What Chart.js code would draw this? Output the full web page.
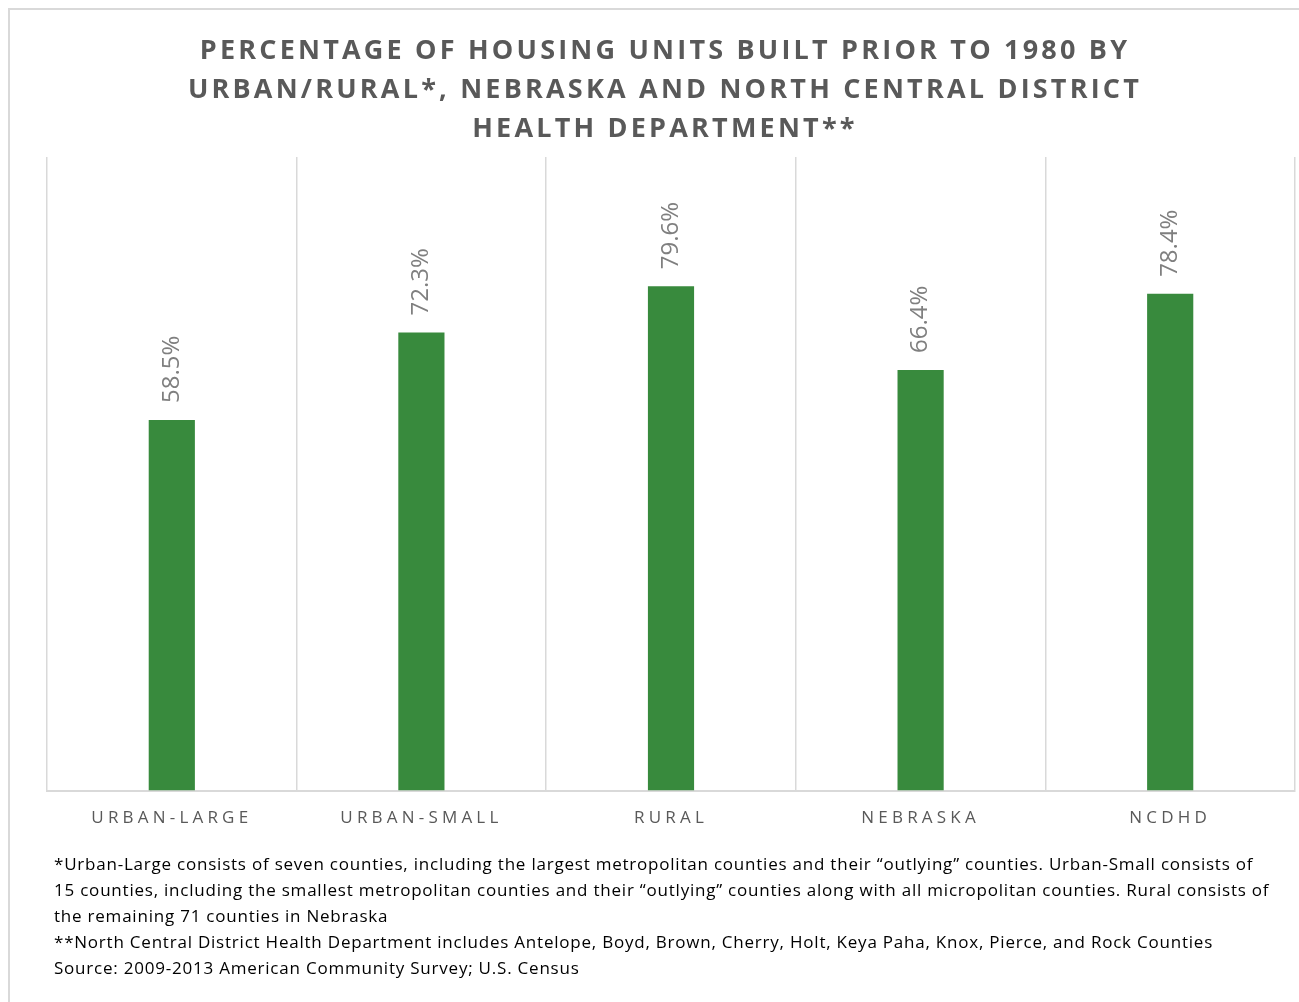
<!DOCTYPE html>
<html><head><meta charset="utf-8">
<script src="https://cdn.jsdelivr.net/npm/chart.js@4/dist/chart.umd.min.js"></script>
<style>
html,body{margin:0;padding:0;background:#fff;}
body{width:1299px;height:1002px;position:relative;overflow:hidden;}
#frame{position:absolute;left:8px;top:8px;width:1400px;height:1100px;border-left:2px solid #d9d9d9;border-top:2px solid #d9d9d9;box-sizing:border-box;}
#wrap{position:absolute;left:0;top:0;width:1299px;height:1002px;}
#title{position:absolute;left:5px;width:1320px;top:29px;text-align:center;font-family:"Open Sans";font-weight:bold;font-size:27px;line-height:39px;letter-spacing:3.2px;color:#595959;}
#notes{position:absolute;left:54px;top:851px;font-family:"Open Sans";font-size:17px;line-height:26px;letter-spacing:0.78px;color:#000;white-space:nowrap;}
</style></head><body>
<div id="frame"></div>
<div id="wrap"><canvas id="c" width="1299" height="1002"></canvas></div>
<div id="title">PERCENTAGE OF HOUSING UNITS BUILT PRIOR TO 1980 BY<br>URBAN/RURAL*, NEBRASKA AND NORTH CENTRAL DISTRICT<br>HEALTH DEPARTMENT**</div>
<div id="notes">*Urban-Large consists of seven counties, including the largest metropolitan counties and their “outlying” counties. Urban-Small consists of<br>15 counties, including the smallest metropolitan counties and their “outlying” counties along with all micropolitan counties. Rural consists of<br>the remaining 71 counties in Nebraska<br>**North Central District Health Department includes Antelope, Boyd, Brown, Cherry, Holt, Keya Paha, Knox, Pierce, and Rock Counties<br>Source: 2009-2013 American Community Survey; U.S. Census</div>
<script>
const categories = ["URBAN-LARGE", "URBAN-SMALL", "RURAL", "NEBRASKA", "NCDHD"];
const values = [58.5, 72.3, 79.6, 66.4, 78.4];
const valueLabels = ["58.5%", "72.3%", "79.6%", "66.4%", "78.4%"];

const spacingPlugin = {
  id: 'spacing',
  beforeDraw(chart) { chart.ctx.letterSpacing = '4.2px'; },
  beforeDatasetsDraw(chart) { chart.ctx.letterSpacing = '0px'; }
};
const valueLabelPlugin = {
  id: 'valueLabels',
  afterDatasetsDraw(chart) {
    const ctx = chart.ctx;
    const meta = chart.getDatasetMeta(0);
    ctx.save();
    ctx.font = '24px "Open Sans"';
    ctx.fillStyle = '#7f7f7f';
    ctx.textAlign = 'left';
    ctx.textBaseline = 'middle';
    meta.data.forEach((bar, i) => {
      ctx.save();
      ctx.translate(bar.x, bar.y - 17);
      ctx.rotate(-Math.PI / 2);
      ctx.fillText(valueLabels[i], 0, 0);
      ctx.restore();
    });
    ctx.restore();
  }
};

new Chart(document.getElementById('c'), {
  type: 'bar',
  data: {
    labels: categories,
    datasets: [{
      data: values,
      backgroundColor: '#388a3d',
      barPercentage: 0.185,
      categoryPercentage: 1.0
    }]
  },
  options: {
    responsive: false,
    animation: false,
    layout: { padding: { left: 47, right: 4, top: 157, bottom: 157 } },
    plugins: { legend: { display: false }, tooltip: { enabled: false }, title: { display: false } },
    scales: {
      x: {
        offset: true,
        grid: { offset: true, color: '#d9d9d9', lineWidth: 1.5, drawTicks: false },
        border: { color: '#d9d9d9', width: 2 },
        ticks: { color: '#595959', font: { family: 'Open Sans', size: 17 }, padding: 17, maxRotation: 0 }
      },
      y: { display: false, min: 0, max: 100 }
    }
  },
  plugins: [spacingPlugin, valueLabelPlugin]
});
</script>
</body></html>
